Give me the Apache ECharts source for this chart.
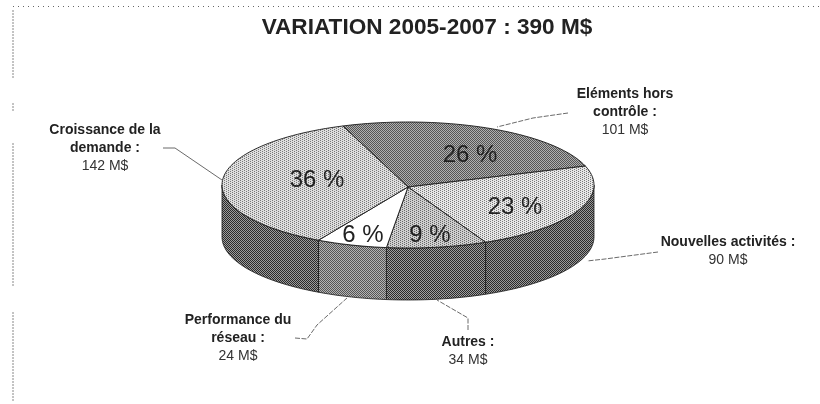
<!DOCTYPE html>
<html>
<head>
<meta charset="utf-8">
<script src="https://cdn.jsdelivr.net/npm/echarts@6/dist/echarts.min.js"></script>
<style>html,body{margin:0;padding:0;background:#fff}</style>
</head>
<body>
<div id="main" style="width:820px;height:404px;"></div>
<script>
// order: clockwise from the top of the pie
var names = ['Eléments hors\ncontrôle :', 'Nouvelles activités :', 'Autres :', 'Performance du\nréseau :', 'Croissance de la\ndemande :'];
var values = [101, 90, 34, 24, 142];
var percents = ['26 %', '23 %', '9 %', '6 %', '36 %'];
var titleText = 'VARIATION 2005-2007 : 390 M$';

// pie geometry
var cx = 408, cy = 185, rx = 186, ry = 63, depth = 52, startAngle = 110.5;
var total = values.reduce(function (a, b) { return a + b; }, 0);

// where the texts and leader lines go, same order as names
var pctPos = [[470, 155], [515, 207], [430, 235], [363, 235], [317, 180]];
var calloutPos = [[625, 112], [728, 251], [468, 351], [238, 338], [105, 148]];
var leaders = [
  [[568, 113], [533, 118], [497, 127]],
  [[658, 252], [605, 259], [587, 261]],
  [[468, 330], [468, 318], [437, 300]],
  [[295, 338], [307, 339], [317, 325], [347, 298]],
  [[163, 148], [175, 148], [222, 180]]
];
// the left border of the scan is broken in pieces
var borderPieces = [[10, 78], [103, 112], [143, 287], [312, 402]];

function dither(rows, dark, light) {
  var c = document.createElement('canvas');
  c.width = rows[0].length; c.height = rows.length;
  var g = c.getContext('2d');
  rows.forEach(function (r, y) {
    r.split('').forEach(function (ch, x) {
      g.fillStyle = ch === '#' ? dark : light;
      g.fillRect(x, y, 1, 1);
    });
  });
  return { image: c, repeat: 'repeat' };
}
var checker = ['#.', '.#'];
var sparse = ['#...', '..#.'];
var topFill = [
  dither(checker, '#555', '#b0b0b0'),
  dither(sparse, '#777', '#e6e6e6'),
  dither(sparse, '#666', '#cfcfcf'),
  '#fff',
  dither(sparse, '#777', '#dedede')
];
var wallFill = [
  null,
  dither(checker, '#2a2a2a', '#999'),
  dither(checker, '#2a2a2a', '#a0a0a0'),
  dither(checker, '#555', '#b4b4b4'),
  dither(checker, '#2a2a2a', '#9c9c9c')
];

function arc(a1, a2, dy) {
  var pts = [], n = Math.max(2, Math.ceil(Math.abs(a1 - a2) / 2));
  for (var i = 0; i <= n; i++) {
    var a = (a1 + (a2 - a1) * i / n) * Math.PI / 180;
    pts.push([cx + rx * Math.cos(a), cy - ry * Math.sin(a) + dy]);
  }
  return pts;
}

function renderSlice(params, api) {
  var i = params.dataIndex;
  var before = 0;
  for (var k = 0; k < i; k++) before += values[k];
  var a1 = startAngle - before / total * 360;
  var a2 = a1 - api.value(0) / total * 360;
  var children = [];
  // side wall, only the part on the front half shows
  var hi = Math.min(a1, 0), lo = Math.max(a2, -180);
  if (hi > lo) {
    var wall = arc(hi, lo, 0).concat(arc(lo, hi, depth));
    children.push({ type: 'polygon', shape: { points: wall }, style: { fill: wallFill[i], stroke: '#1a1a1a', lineWidth: 0.8 } });
  }
  children.push({ type: 'polygon', shape: { points: [[cx, cy + 2]].concat(arc(a1, a2, 0)) }, style: { fill: topFill[i], stroke: '#1a1a1a', lineWidth: 0.9 } });
  children.push({ type: 'text', z2: 10, style: { x: pctPos[i][0], y: pctPos[i][1], text: percents[i], fill: '#222', font: '24px "Liberation Sans"', align: 'center', verticalAlign: 'middle' } });
  return { type: 'group', children: children };
}

var graphics = [
  { type: 'line', shape: { x1: 13, y1: 6.5, x2: 820, y2: 6.5 }, style: { stroke: '#666', lineWidth: 1, lineDash: [1, 4] } }
];
borderPieces.forEach(function (p) {
  graphics.push({ type: 'line', shape: { x1: 13, y1: p[0], x2: 13, y2: p[1] }, style: { stroke: '#888', lineWidth: 1, lineDash: [2, 1] } });
});
names.forEach(function (n, i) {
  graphics.push({ type: 'polyline', shape: { points: leaders[i] }, style: { stroke: '#444', lineWidth: 0.8, fill: 'none', lineDash: i === 4 ? null : [5, 1.5] } });
  graphics.push({
    type: 'text', x: calloutPos[i][0], y: calloutPos[i][1],
    style: {
      text: '{b|' + n.replace('\n', '}\n{b|') + '}\n{v|' + values[i] + ' M$}',
      align: 'center', verticalAlign: 'middle',
      rich: {
        b: { font: 'bold 14px "Liberation Sans"', fill: '#222', lineHeight: 18, align: 'center' },
        v: { font: '14px "Liberation Sans"', fill: '#333', lineHeight: 18, align: 'center' }
      }
    }
  });
});

var myChart = echarts.init(document.getElementById('main'));
var option = {
  animation: false,
  title: {
    text: titleText, left: 422, top: 11, textAlign: 'center',
    textStyle: { fontFamily: 'Liberation Sans', fontSize: 22.6, fontWeight: 'bold', color: '#222' }
  },
  graphic: graphics,
  series: [{
    type: 'custom',
    coordinateSystem: 'none',
    renderItem: renderSlice,
    data: values.map(function (v) { return [v]; })
  }]
};
myChart.setOption(option);
</script>
</body>
</html>
